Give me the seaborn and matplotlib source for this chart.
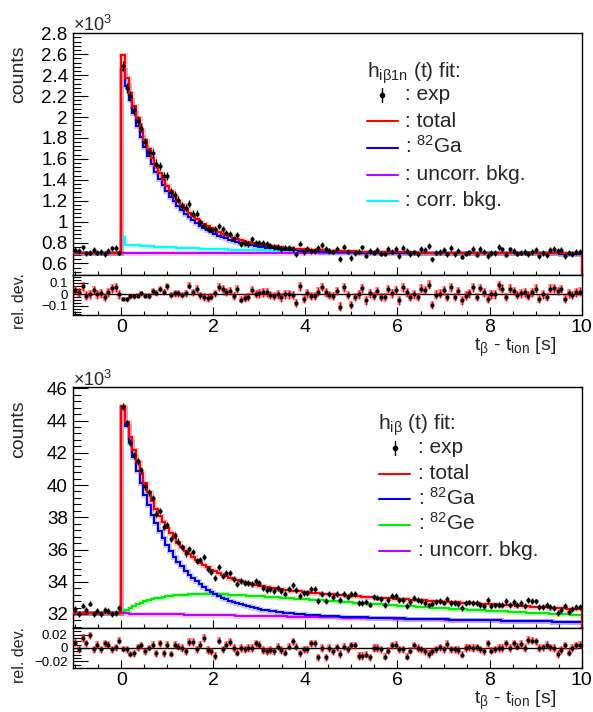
import numpy as np
import pandas as pd
import matplotlib
matplotlib.use("Agg")
import matplotlib.pyplot as plt
from matplotlib.lines import Line2D
from matplotlib.ticker import MultipleLocator, FuncFormatter
import seaborn as sns

# ---------------------------------------------------------------- binning
BIN_WIDTH = 0.08
FIRST_EDGE = -1.04
N_BINS = 138

# ---------------------------------------------------------------- h_iβ1n(t) : counts per bin
top_exp = [
    732, 718, 754, 697, 705, 732, 705, 711, 690, 718, 744, 750, 705,
    2486, 2273, 2200, 2066, 1962, 1896, 1759, 1665, 1656, 1555,
    1533, 1434, 1436, 1282, 1253, 1209, 1151, 1131, 1170, 1074,
    1076, 995, 956, 927, 919, 926, 958, 927, 892, 884,
    833, 874, 788, 792, 790, 830, 792, 792, 794, 788,
    764, 756, 760, 736, 752, 748, 740, 688, 791, 706,
    741, 722, 721, 746, 774, 739, 719, 713, 743, 643,
    762, 713, 651, 701, 714, 753, 676, 718, 703, 731,
    695, 694, 742, 714, 736, 670, 752, 719, 691, 706,
    690, 738, 731, 764, 639, 703, 708, 729, 687, 747,
    687, 723, 665, 694, 706, 743, 685, 739, 713, 671,
    700, 700, 755, 734, 685, 734, 720, 695, 705, 712,
    691, 711, 732, 669, 698, 683, 732, 736, 719, 730,
    668, 703, 693, 710, 714,
]
top_uncorr = [
    705, 705, 705, 705, 705, 705, 705, 705, 705, 705, 705, 705, 705,
    705, 705, 705, 705, 705, 705,
    704, 704, 704, 704, 704, 704, 704, 704, 704, 704, 704, 704, 704,
    703, 703, 703, 703, 703, 703, 703, 703, 703, 703, 703, 703,
    702, 702, 702, 702, 702, 702, 702, 702, 702, 702, 702, 702, 702,
    701, 701, 701, 701, 701, 701, 701, 701, 701, 701, 701, 701,
    700, 700, 700, 700, 700, 700, 700, 700, 700, 700, 700, 700, 700,
    699, 699, 699, 699, 699, 699, 699, 699, 699, 699, 699, 699,
    698, 698, 698, 698, 698, 698, 698, 698, 698, 698, 698, 698, 698,
    697, 697, 697, 697, 697, 697, 697, 697, 697, 697, 697, 697,
    696, 696, 696, 696, 696, 696, 696, 696, 696, 696, 696, 696, 696,
    695, 695, 695, 695, 695, 695,
]
top_corr = [
    0, 0, 0, 0, 0, 0, 0, 0, 0, 0, 0, 0, 0,
    145, 75, 73, 70, 68, 66, 64, 62, 60, 58,
    56, 54, 52, 51, 49, 48, 46, 45, 43, 42,
    41, 39, 38, 37, 36, 35, 33, 32, 31, 30,
    29, 28, 28, 27, 26, 25, 24, 23, 23, 22,
    21, 21, 20, 19, 19, 18, 17, 17, 16, 16,
    15, 15, 14, 14, 13, 13, 12, 12, 12, 11,
    11, 10, 10, 10, 9, 9, 9, 8, 8, 8,
    8, 7, 7, 7, 7, 6, 6, 6, 6, 6,
    5, 5, 5, 5, 5, 5, 4, 4, 4, 4,
    4, 4, 4, 3, 3, 3, 3, 3, 3, 3,
    3, 3, 3, 3, 3, 3, 3, 3, 3, 3,
    3, 2, 2, 2, 2, 2, 2, 2, 2, 2,
    2, 2, 2, 2, 2,
]
top_ga = [
    0, 0, 0, 0, 0, 0, 0, 0, 0, 0, 0, 0, 0,
    1745, 1593, 1455, 1329, 1213, 1108, 1012, 924, 844, 770,
    703, 642, 586, 535, 489, 446, 408, 372, 340, 310,
    283, 259, 236, 216, 197, 180, 164, 150, 137, 125,
    114, 104, 95, 87, 79, 72, 66, 60, 55, 50,
    46, 42, 38, 35, 32, 29, 26, 24, 22, 20,
    18, 17, 15, 14, 13, 12, 11, 10, 9, 8,
    7, 7, 6, 6, 5, 5, 4, 4, 4, 3,
    3, 3, 2, 2, 2, 2, 2, 2, 1, 1,
    1, 1, 1, 1, 1, 1, 1, 1, 1, 1,
    0, 0, 0, 0, 0, 0, 0, 0, 0, 0,
    0, 0, 0, 0, 0, 0, 0, 0, 0, 0,
    0, 0, 0, 0, 0, 0, 0, 0, 0, 0,
    0, 0, 0, 0, 0,
]

# ---------------------------------------------------------------- h_iβ(t) : counts per bin
bot_exp = [
    32296, 31976, 32521, 32264, 32649, 31976, 32200, 31976, 32264, 32200, 31976, 32072, 32392,
    44859, 43824, 42620, 41846, 41470, 40905, 39913, 39541, 39212, 38231,
    38370, 37402, 37527, 36673, 36885, 36496, 36167, 35753, 36040, 35842,
    35272, 35354, 35551, 34781, 34584, 34225, 34913, 34363, 34512, 34563,
    34177, 33865, 34036, 33905, 33914, 33861, 34047, 33932, 33617, 33509,
    33538, 33434, 33635, 33434, 33269, 33543, 33782, 33488, 33129, 33305,
    33282, 33560, 33538, 32819, 33265, 32781, 33227, 33043, 33224, 32875,
    33224, 33075, 33256, 33240, 32696, 32681, 32732, 32585, 33033, 33018,
    32938, 32561, 32843, 33093, 33112, 32868, 32854, 32478, 32761, 33011,
    32866, 32787, 32675, 32531, 32648, 32734, 32820, 32707, 32957, 32682,
    32669, 32623, 32381, 32695, 32715, 32669, 32689, 32578, 32467, 32845,
    32475, 32526, 32578, 32565, 32780, 32540, 32755, 32579, 32696, 32488,
    32866, 32820, 32775, 32437, 32456, 32574, 32431, 32386, 32082, 32263,
    32477, 32109, 32322, 32438, 32457,
]
bot_total = [
    32040, 32040, 32040, 32040, 32040, 32040, 32040, 32040, 32040, 32040, 32040, 32040, 32040,
    44904, 43912, 43007, 42183, 41429, 40742, 40114, 39541, 39017, 38539,
    38103, 37704, 37340, 37006, 36701, 36423, 36167, 35933, 35719, 35522,
    35343, 35178, 35026, 34886, 34758, 34641, 34533, 34432, 34340, 34255,
    34177, 34104, 34036, 33973, 33914, 33861, 33810, 33763, 33718, 33677,
    33639, 33602, 33568, 33535, 33504, 33476, 33448, 33421, 33396, 33372,
    33349, 33327, 33305, 33285, 33265, 33246, 33227, 33209, 33191, 33174,
    33158, 33141, 33124, 33108, 33093, 33078, 33063, 33048, 33033, 33018,
    33004, 32990, 32975, 32961, 32947, 32934, 32920, 32906, 32893, 32879,
    32866, 32853, 32839, 32826, 32812, 32800, 32787, 32773, 32760, 32747,
    32734, 32721, 32708, 32695, 32682, 32669, 32656, 32643, 32630, 32617,
    32605, 32591, 32578, 32565, 32552, 32540, 32527, 32514, 32501, 32488,
    32476, 32463, 32450, 32437, 32424, 32412, 32399, 32386, 32373, 32360,
    32348, 32335, 32322, 32309, 32296,
]
bot_uncorr = [
    32040, 32040, 32040, 32040, 32040, 32040, 32040, 32040, 32040, 32040, 32040, 32040, 32040,
    32038, 32034, 32029, 32025, 32021, 32016, 32012, 32008, 32003, 31999,
    31995, 31990, 31986, 31982, 31977, 31973, 31969, 31964, 31960, 31956,
    31951, 31947, 31943, 31938, 31934, 31930, 31925, 31921, 31917, 31912,
    31908, 31904, 31899, 31895, 31891, 31886, 31882, 31878, 31874, 31869,
    31865, 31861, 31856, 31852, 31848, 31843, 31839, 31835, 31830, 31826,
    31822, 31817, 31813, 31809, 31804, 31800, 31796, 31791, 31787, 31783,
    31778, 31774, 31770, 31765, 31761, 31757, 31752, 31748, 31744, 31740,
    31735, 31731, 31727, 31722, 31718, 31714, 31709, 31705, 31701, 31696,
    31692, 31688, 31683, 31679, 31675, 31670, 31666, 31662, 31657, 31653,
    31649, 31644, 31640, 31636, 31631, 31627, 31623, 31618, 31614, 31610,
    31606, 31601, 31597, 31593, 31588, 31584, 31580, 31575, 31571, 31567,
    31562, 31558, 31554, 31549, 31545, 31541, 31536, 31532, 31528, 31523,
    31519, 31515, 31510, 31506, 31502,
]
bot_ga = [
    0, 0, 0, 0, 0, 0, 0, 0, 0, 0, 0, 0, 0,
    12760, 11651, 10639, 9714, 8871, 8100, 7396, 6754, 6167, 5631,
    5141, 4694, 4287, 3915, 3574, 3264, 2981, 2722, 2484, 2269,
    2072, 1892, 1728, 1577, 1441, 1316, 1201, 1096, 1002, 915,
    835, 762, 695, 635, 581, 530, 484, 442, 403, 369,
    337, 308, 281, 256, 234, 213, 195, 179, 162, 148,
    135, 124, 114, 103, 94, 85, 79, 71, 65, 60,
    55, 50, 46, 42, 38, 34, 32, 29, 27, 24,
    22, 20, 18, 17, 15, 14, 13, 11, 10, 10,
    9, 8, 8, 7, 6, 6, 5, 5, 4, 4,
    4, 3, 3, 3, 3, 2, 2, 2, 2, 2,
    1, 1, 1, 1, 1, 1, 1, 1, 1, 1,
    1, 0, 0, 0, 0, 0, 0, 0, 0, 0,
    0, 0, 0, 0, 0,
]
bot_ge = [
    0, 0, 0, 0, 0, 0, 0, 0, 0, 0, 0, 0, 0,
    80, 227, 359, 478, 584, 680, 765, 841, 908, 968,
    1021, 1067, 1108, 1144, 1175, 1201, 1224, 1243, 1258, 1271,
    1282, 1290, 1295, 1299, 1301, 1301, 1300, 1298, 1294, 1290,
    1284, 1278, 1271, 1263, 1255, 1246, 1237, 1227, 1217, 1207,
    1196, 1185, 1174, 1163, 1151, 1140, 1128, 1117, 1105, 1093,
    1082, 1070, 1058, 1046, 1035, 1023, 1011, 1000, 989, 977,
    966, 955, 944, 932, 922, 911, 900, 889, 878, 869,
    858, 847, 837, 828, 818, 808, 798, 788, 779, 770,
    760, 752, 743, 734, 725, 716, 707, 698, 690, 681,
    673, 665, 657, 649, 641, 633, 625, 618, 610, 603,
    595, 588, 581, 574, 567, 560, 553, 546, 539, 533,
    526, 520, 513, 507, 501, 495, 489, 483, 477, 471,
    465, 460, 454, 448, 443,
]

# ---------------------------------------------------------------- text
top_title = r"h$_{\mathregular{i\beta 1n}}$ (t) fit:"
top_labels = [": exp", ": total", r": $\mathregular{^{82}}$Ga", ": uncorr. bkg.", ": corr. bkg."]
bot_title = r"h$_{\mathregular{i\beta}}$ (t) fit:"
bot_labels = [": exp", ": total", r": $\mathregular{^{82}}$Ga", r": $\mathregular{^{82}}$Ge", ": uncorr. bkg."]
x_title = r"t$_{\mathregular{\beta}}$ - t$_{\mathregular{ion}}$ [s]"

RED, BLUE, MAGENTA, CYAN, GREEN = "#ff0000", "#0000ee", "#c800ff", "#00ffff", "#00ee00"

# ---------------------------------------------------------------- style
sns.set_style("ticks")
plt.rcParams["font.family"] = ["Liberation Sans", "DejaVu Sans"]
plt.rcParams["mathtext.fontset"] = "custom"
plt.rcParams["mathtext.rm"] = "Liberation Sans"
plt.rcParams["mathtext.it"] = "Liberation Sans:italic"
plt.rcParams["mathtext.bf"] = "Liberation Sans:bold"
plt.rcParams["axes.unicode_minus"] = True

W, H = 593, 712
fig = plt.figure(figsize=(W / 100, H / 100), dpi=100)
fig.patch.set_facecolor("white")


def fx(x):
    return x / W


def fy(y):
    return 1 - y / H


def box(x0, y0, x1, y1):
    return [fx(x0), fy(y1), (x1 - x0) / W, (y1 - y0) / H]


EDGES = FIRST_EDGE + BIN_WIDTH * np.arange(N_BINS + 1)
CENTERS = 0.5 * (EDGES[:-1] + EDGES[1:])
X_MIN, X_MAX = EDGES[0], EDGES[-1]


def tick_fmt(v, _):
    v = round(v, 4)
    if abs(v) < 1e-9:
        return "0"
    return f"{v:g}".replace("-", "\u2212")


def frame(ax, ylim, ymaj, ymin_, ysize, show_x):
    ax.set_xlim(X_MIN, X_MAX)
    ax.set_ylim(*ylim)
    ax.xaxis.set_major_locator(MultipleLocator(2))
    ax.xaxis.set_minor_locator(MultipleLocator(0.5))
    ax.yaxis.set_major_locator(MultipleLocator(ymaj))
    ax.yaxis.set_minor_locator(MultipleLocator(ymin_))
    ax.xaxis.set_major_formatter(FuncFormatter(tick_fmt))
    ax.yaxis.set_major_formatter(FuncFormatter(tick_fmt))
    ax.tick_params(which="both", direction="in", top=False, right=False,
                   width=0.8, colors="black")
    ax.tick_params(axis="y", which="major", length=11, labelsize=ysize, pad=4)
    ax.tick_params(axis="y", which="minor", length=5.5)
    ax.tick_params(axis="x", which="major", length=5.5, labelsize=14, pad=3,
                   labelbottom=show_x)
    ax.tick_params(axis="x", which="minor", length=3)
    for sp in ax.spines.values():
        sp.set_visible(True)
        sp.set_linewidth(1.0)
        sp.set_color("black")
    ax.set_facecolor("white")


def draw_fit(ax, values, color, ybase):
    ax.stairs(values, EDGES, color=color, lw=3.6, alpha=0.2, baseline=None, zorder=2)
    ax.stairs(values, EDGES, color=color, lw=1.5, baseline=None, zorder=3)
    ax.vlines(EDGES[-1], ybase, values[-1], color=color, lw=1.5, zorder=3)


def draw_points(ax, y, err, bar_color):
    df = pd.DataFrame({"t": CENTERS, "y": y})
    if bar_color != "black":
        ax.errorbar(CENTERS, y, yerr=err, fmt="none", ecolor=bar_color,
                    elinewidth=3.0, alpha=0.35, zorder=4)
    ax.errorbar(CENTERS, y, yerr=err, fmt="none", ecolor=bar_color,
                elinewidth=1.0, zorder=5)
    sns.scatterplot(data=df, x="t", y="y", ax=ax, color="black", marker="o",
                    s=9, linewidth=0, zorder=6, legend=False)
    ax.set_xlabel("")
    ax.set_ylabel("")


def draw_legend(title, title_pos, text_x, baselines, labels, colors, line_x, exp_pos):
    fig.text(fx(title_pos[0]), fy(title_pos[1]), title, fontsize=15, va="baseline")
    for b, lab in zip(baselines, labels):
        fig.text(fx(text_x), fy(b), lab, fontsize=15, va="baseline")
    ex, ey = exp_pos
    fig.add_artist(Line2D([fx(ex), fx(ex)], [fy(ey - 7), fy(ey + 7)], color="black", lw=1.0))
    fig.add_artist(Line2D([fx(ex)], [fy(ey)], marker="o", ms=3.0, color="black", lw=0))
    for b, c in zip(baselines[1:], colors):
        fig.add_artist(Line2D([fx(line_x[0]), fx(line_x[1])], [fy(b - 5.5)] * 2,
                              color=c, lw=1.5))


# ================================================================ upper pair: h_iβ1n
t_exp = np.array(top_exp, float)
t_unc = np.array(top_uncorr, float)
t_cor = t_unc + np.array(top_corr, float)
t_ga = t_unc + np.array(top_ga, float)
t_tot = t_unc + np.array(top_corr, float) + np.array(top_ga, float)

ax1 = fig.add_axes(box(73.3, 33.3, 581.7, 275))
r1 = fig.add_axes(box(73.3, 275, 581.7, 315))
y1 = (0.49, 2.8)
frame(ax1, y1, 0.2, 0.04, 13.5, False)
frame(r1, (-0.18, 0.17), 0.1, 0.025, 9.5, True)

draw_fit(ax1, t_unc / 1000, MAGENTA, y1[0])
draw_fit(ax1, t_cor / 1000, CYAN, y1[0])
draw_fit(ax1, t_ga / 1000, BLUE, y1[0])
draw_fit(ax1, t_tot / 1000, RED, y1[0])
draw_points(ax1, t_exp / 1000, np.sqrt(t_exp) / 1000, "black")

r1.axhline(0, color="black", lw=1.0, zorder=3)
draw_points(r1, (t_exp - t_tot) / t_tot, np.sqrt(t_exp) / t_tot, RED)

# ================================================================ lower pair: h_iβ
b_exp = np.array(bot_exp, float)
b_tot = np.array(bot_total, float)
b_unc = np.array(bot_uncorr, float)
b_ga = b_unc + np.array(bot_ga, float)
b_ge = b_unc + np.array(bot_ge, float)

ax2 = fig.add_axes(box(73.3, 386.7, 581.7, 628))
r2 = fig.add_axes(box(73.3, 628, 581.7, 668))
y2 = (31.13, 46.1)
frame(ax2, y2, 2, 0.4, 13.5, False)
frame(r2, (-0.03, 0.03), 0.02, 0.005, 9.5, True)

draw_fit(ax2, b_ge / 1000, GREEN, y2[0])
draw_fit(ax2, b_unc / 1000, MAGENTA, y2[0])
draw_fit(ax2, b_ga / 1000, BLUE, y2[0])
draw_fit(ax2, b_tot / 1000, RED, y2[0])
draw_points(ax2, b_exp / 1000, np.sqrt(b_exp) / 1000, "black")

r2.axhline(0, color="black", lw=1.0, zorder=3)
draw_points(r2, (b_exp - b_tot) / b_tot, np.sqrt(b_exp) / b_tot, RED)

# ================================================================ labels
for y_pix in (31, 386):
    fig.text(fx(73), fy(y_pix), r"$\mathregular{\times10^{3}}$", fontsize=13, va="baseline")

fig.text(fx(19), fy(45), "counts", rotation=90, ha="center", va="top", fontsize=14)
fig.text(fx(19), fy(400), "counts", rotation=90, ha="center", va="top", fontsize=14)
fig.text(fx(19), fy(273), "rel. dev.", rotation=90, ha="center", va="top", fontsize=11.5)
fig.text(fx(19), fy(627), "rel. dev.", rotation=90, ha="center", va="top", fontsize=11.5)
fig.text(fx(556), fy(351), x_title, ha="right", va="baseline", fontsize=14)
fig.text(fx(556), fy(704), x_title, ha="right", va="baseline", fontsize=14)

draw_legend(top_title, (366.7, 78), 405, [100, 126.7, 153.3, 180, 206.2],
            top_labels, [RED, BLUE, MAGENTA, CYAN], (366.7, 398.3), (382.3, 95))
draw_legend(bot_title, (378.3, 430), 418.3, [453.3, 479.3, 504.3, 530, 556],
            bot_labels, [RED, BLUE, GREEN, MAGENTA], (379.3, 410), (395, 448.3))

fig.savefig("out.png", dpi=100, facecolor="white")
